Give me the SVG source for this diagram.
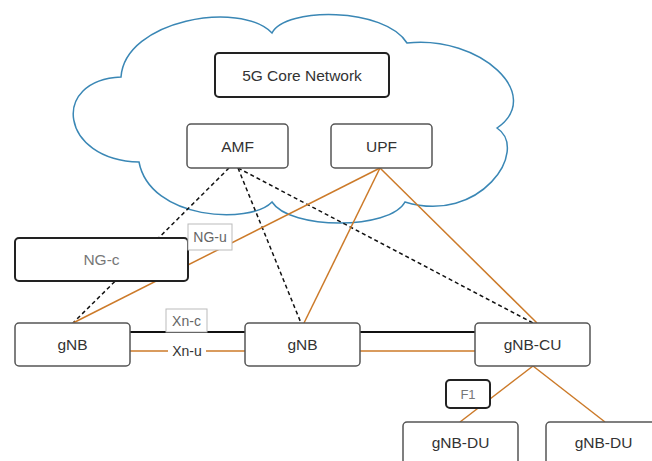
<svg xmlns="http://www.w3.org/2000/svg" width="652" height="461" viewBox="0 0 652 461">
<defs>
<style>
.node{fill:#fff;stroke:#555;stroke-width:1.5}
.bold{fill:#fff;stroke:#222;stroke-width:2}
.lbl{fill:#fff;stroke:#bbb;stroke-width:1}
.t{font-family:"Liberation Sans",Arial,sans-serif;font-size:15.5px;fill:#333;text-anchor:middle;dominant-baseline:central}
.tl{font-family:"Liberation Sans",Arial,sans-serif;font-size:14px;fill:#666;text-anchor:middle;dominant-baseline:central}
.ctl{fill:none;stroke:#111;stroke-width:1.5;stroke-dasharray:4,3}
.usr{fill:none;stroke:#cc7a29;stroke-width:1.5}
.xn{fill:none;stroke:#111;stroke-width:2}
</style>
</defs>
<rect width="652" height="461" fill="#fff"/>
<g id="cloud">
<path d="M139,162 C60,160 50,80 121,77 C125,20 240,0 272,33 C285,7 385,7 407,43 C480,35 545,95 497,128 C530,150 480,225 405,202 C390,230 290,230 272,202 C250,225 150,220 139,162 Z" fill="#fff" stroke="#3a87b5" stroke-width="1.5"/>
</g>
<g id="connectors">
<line class="ctl" x1="229" y1="168" x2="73" y2="323"/>
<line class="ctl" x1="238" y1="168" x2="301" y2="323"/>
<line class="ctl" x1="238" y1="168" x2="533" y2="323"/>
<line class="usr" x1="380" y1="168" x2="73" y2="323"/>
<line class="usr" x1="380" y1="168" x2="304" y2="323"/>
<line class="usr" x1="380" y1="168" x2="537" y2="323"/>
<line class="xn" x1="130" y1="332" x2="245" y2="332"/>
<line class="xn" x1="360" y1="332" x2="475" y2="332"/>
<line class="usr" x1="130" y1="351" x2="168" y2="351"/>
<line class="usr" x1="206" y1="351" x2="245" y2="351"/>
<line class="usr" x1="360" y1="351" x2="475" y2="351"/>
<line class="usr" x1="533" y1="366" x2="460" y2="422"/>
<line class="usr" x1="533" y1="366" x2="605" y2="422"/>
</g>
<g id="core"><rect class="bold" x="215" y="53" width="174" height="44" rx="4"/><text class="t" x="302" y="75">5G Core Network</text></g>
<g id="amf"><rect class="node" x="187" y="124" width="101" height="44" rx="4"/><text class="t" x="237.5" y="146">AMF</text></g>
<g id="upf"><rect class="node" x="331" y="124" width="101" height="44" rx="4"/><text class="t" x="381.5" y="146">UPF</text></g>
<g id="ngc"><rect class="bold" x="15" y="238" width="173" height="43" rx="4"/><text class="t" x="101.5" y="259.5" style="fill:#777">NG-c</text></g>
<g id="ngu"><rect class="lbl" x="188" y="224" width="44" height="26"/><text class="tl" x="210" y="237">NG-u</text></g>
<g id="gnb1"><rect class="node" x="15" y="323" width="115" height="43" rx="4"/><text class="t" x="72.5" y="344">gNB</text></g>
<g id="xnc"><rect class="lbl" x="166" y="309" width="41" height="23"/><text class="tl" x="186.5" y="320.5">Xn-c</text></g>
<g id="xnu"><text class="tl" x="187" y="351" style="fill:#333">Xn-u</text></g>
<g id="gnb2"><rect class="node" x="245" y="323" width="115" height="43" rx="4"/><text class="t" x="302.5" y="344">gNB</text></g>
<g id="gnbcu"><rect class="node" x="475" y="323" width="115" height="43" rx="4"/><text class="t" x="532.5" y="344">gNB-CU</text></g>
<g id="f1"><rect class="bold" x="446" y="380" width="44" height="28" rx="4"/><text class="tl" x="468" y="394" style="font-size:13px;fill:#777">F1</text></g>
<g id="gnbdu1"><rect class="node" x="403" y="422" width="115" height="43" rx="4"/><text class="t" x="460.5" y="442">gNB-DU</text></g>
<g id="gnbdu2"><rect class="node" x="546" y="422" width="115" height="43" rx="4"/><text class="t" x="603.5" y="442">gNB-DU</text></g>
</svg>
